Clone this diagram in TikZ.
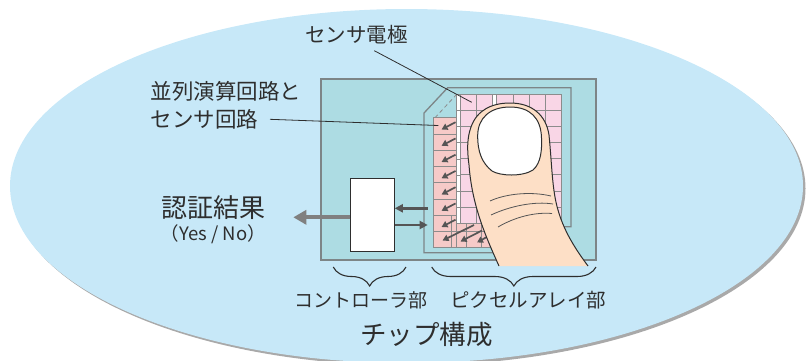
\documentclass[tikz,border=0pt]{standalone}
\usepackage{fontspec}
\setmainfont{Noto Sans CJK JP}
\usetikzlibrary{arrows.meta,decorations.pathreplacing}

\definecolor{sky}{HTML}{C7E8F8}
\definecolor{skyshade}{HTML}{A9A9A9}
\definecolor{chipteal}{HTML}{ADDCE3}
\definecolor{edgegray}{HTML}{7D8587}
\definecolor{gridgray}{HTML}{8C8C8C}
\definecolor{padpink}{HTML}{F9D6E6}
\definecolor{cellsalmon}{HTML}{F6CAC8}
\definecolor{skin}{HTML}{FDDFC6}
\definecolor{inkgray}{HTML}{2E2E2E}
\definecolor{arrowdark}{HTML}{555555}
\definecolor{arrowlight}{HTML}{808080}

\tikzset{
  lbl/.style={text=inkgray, inner sep=0pt},
  leader/.style={draw=inkgray, line width=0.8pt},
  gridline/.style={draw=gridgray, line width=0.9pt},
  pixarrow/.style={draw=arrowdark, line width=1.7pt, -{Triangle[length=6pt,width=6.5pt]}},
  busarrow/.style={draw=arrowdark, line width=2.6pt, -{Triangle[length=8pt,width=8pt]}},
  outarrow/.style={draw=arrowlight, line width=4.3pt, -{Triangle[length=13pt,width=14pt]}},
  partbrace/.style={draw=inkgray, line width=1.1pt, decorate,
    decoration={brace, amplitude=19pt}},
}

\begin{document}
\begin{tikzpicture}[x=1pt,y=-1pt]
\useasboundingbox (0,0) rectangle (809,360);
\clip (0,0) rectangle (809,360);

% background ellipse with its drop shadow
\fill[skyshade] (409,188.5) ellipse [x radius=396.5, y radius=177];
\fill[sky] (406.5,186) ellipse [x radius=396.5, y radius=177];

% chip outline and pixel-array area
\draw[edgegray, fill=chipteal, line width=1.3pt] (321,79) rectangle (596,260);
\draw[edgegray, line width=1.3pt] (424,252.7) -- (424,113) -- (447.7,87.7)
  -- (571,87.7) -- (571,226.7) -- (540,226.7) -- (540,252.7) -- cycle;

% parallel processing / sensor circuit cells
\fill[cellsalmon] (433.3,117.7) rectangle (456.7,247.7);
\fill[cellsalmon] (456.7,223.3) rectangle (530,247.7);
\foreach \k in {0,...,8}
  \draw[gridline] (433.3,{117.7+16.25*\k}) -- (456.7,{117.7+16.25*\k});
\draw[gridline] (456.7,231.45) -- (530,231.45);
\draw[gridline] (456.7,247.7) -- (530,247.7);
\draw[gridline] (433.3,117.7) -- (433.3,247.7);
\draw[gridline] (451.7,215.2) -- (451.7,247.7);
\foreach \x in {456.7,466.7,481.7,497,512}
  \draw[gridline] (\x,223.3) -- (\x,247.7);

% sensor electrode grid
\fill[padpink] (460,94.3) rectangle (561.7,223.3);
\fill[white] (492.3,94.3) rectangle (496.7,223.3);
\foreach \x in {460,476.2,492.3,496.7,513.3,529.3,545.7,561.7}
  \draw[gridline] (\x,94.3) -- (\x,223.3);
\foreach \k in {0,...,8}
  \draw[gridline] (460,{94.3+16.125*\k}) -- (561.7,{94.3+16.125*\k});

% white bus strip beside the electrodes
\draw[gridgray, fill=white, line width=0.8pt] (456.7,94.3) rectangle (460,223.3);
\foreach \k in {1,...,7}
  \draw[gridgray, line width=0.6pt] (456.7,{94.3+16.125*\k}) -- (460,{94.3+16.125*\k});

% data flow from electrodes to the cells
\foreach \k in {0,...,6}
  \draw[pixarrow] (455.5,{122.2+16.25*\k}) -- (441.5,{129.5+16.25*\k});
\draw[pixarrow] (474,225) -- (442.5,240.5);
\draw[pixarrow] (482,230.5) -- (460.5,241.5);
\draw[pixarrow] (493,233.5) -- (477,242.5);

\draw[gridgray, line width=0.8pt, dash pattern=on 4pt off 3pt] (435,117.7) -- (456.7,94.3);

% controller block and its buses
\node[draw=inkgray, fill=white, line width=1pt, minimum width=43.3pt,
  minimum height=72.7pt, inner sep=0pt] (ctrl) at (372.6,215.3) {};
\coordinate (busIn) at (427.7,208.3);
\coordinate (busOut) at (427.7,225);
\draw[busarrow] (busIn) -- (ctrl.east |- busIn);
\draw[busarrow] (ctrl.east |- busOut) -- (busOut);
\coordinate (resultTip) at (293.3,217.3);
\draw[outarrow] (ctrl.west |- resultTip) -- (resultTip);

% finger on the sensor
\fill[skin] (499,266) .. controls (485,235) and (472,205) .. (469,165)
  .. controls (467,150) and (467,138) .. (471,127)
  .. controls (477,110) and (492,103) .. (510,103)
  .. controls (532,103) and (546,115) .. (549,135)
  .. controls (552,165) and (552,190) .. (558,210)
  .. controls (565,235) and (580,255) .. (588,266) -- cycle;
\draw[inkgray, line width=1pt] (499,266) .. controls (485,235) and (472,205) .. (469,165)
  .. controls (467,150) and (467,138) .. (471,127)
  .. controls (477,110) and (492,103) .. (510,103)
  .. controls (532,103) and (546,115) .. (549,135)
  .. controls (552,165) and (552,190) .. (558,210)
  .. controls (565,235) and (580,255) .. (588,266);
\draw[inkgray, fill=white, line width=1pt] (510,107)
  .. controls (490,107) and (478,118) .. (477.7,135)
  .. controls (477.5,152) and (482,163) .. (492,171)
  .. controls (500,176) and (522,177) .. (533,170)
  .. controls (541,163) and (542,150) .. (541.5,138)
  .. controls (541,118) and (530,107) .. (510,107) -- cycle;
\draw[arrowdark, line width=0.8pt] (490,201) .. controls (505,194) and (530,191) .. (551,196);
\draw[arrowdark, line width=0.8pt] (491,215) .. controls (510,206) and (535,201) .. (553,204);
\draw[arrowdark, line width=0.8pt] (498,227) .. controls (515,217) and (535,212) .. (552,213.5);

% labels and leader lines
\node[lbl, font=\fontsize{20.5}{24}\selectfont] (elec) at (356.7,35) {センサ電極};
\coordinate (elecFoot) at (374.3,50.7);
\coordinate (elecTip) at (471.7,102.3);
\draw[leader] (elecFoot) -- (elecTip);

\node[lbl, anchor=west, font=\fontsize{21.5}{24}\selectfont] (par1) at (150.5,91.7) {並列演算回路と};
\node[lbl, anchor=west, font=\fontsize{21.5}{24}\selectfont] (par2) at (150.5,119.3) {センサ回路};
\coordinate (parFoot) at (270,119.3);
\coordinate (parTip) at (438.3,125.5);
\draw[leader] (parFoot) -- (parTip);

\node[lbl, font=\fontsize{26}{30}\selectfont] (result) at (213.3,207.3) {認証結果};
\node[lbl, font=\fontsize{18.5}{22}\selectfont] (yesno) at (213.3,234.3) {（Yes / No）};

\coordinate (ctrlR) at (406,267);
\coordinate (ctrlL) at (333.3,267);
\draw[partbrace] (ctrlR) -- (ctrlL);
\coordinate (pixR) at (596,267);
\coordinate (pixL) at (431.7,267);
\draw[partbrace] (pixR) -- (pixL);

\node[lbl, font=\fontsize{19}{22}\selectfont] (ctrlName) at (360.8,300) {コントローラ部};
\node[lbl, font=\fontsize{19.5}{22}\selectfont] (pixName) at (528.3,300) {ピクセルアレイ部};
\node[lbl, font=\fontsize{26.5}{30}\selectfont] (chipName) at (426.7,335) {チップ構成};
\end{tikzpicture}
\end{document}
